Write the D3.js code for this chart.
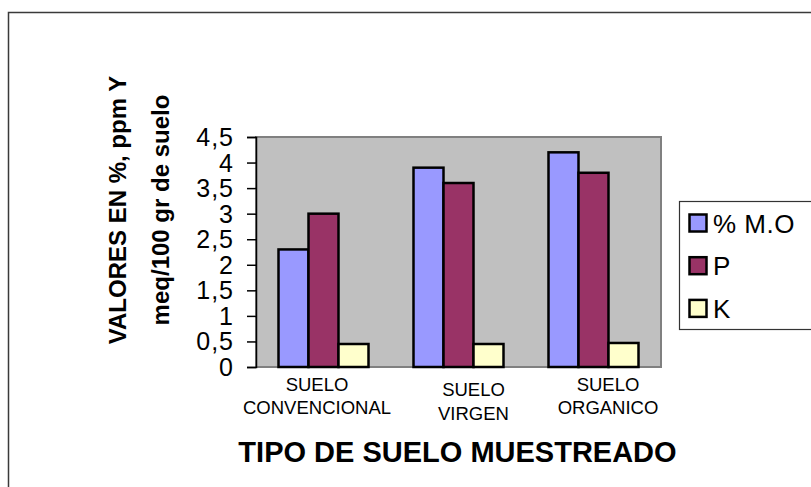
<!DOCTYPE html>
<html>
<head>
<meta charset="utf-8">
<script src="https://cdn.jsdelivr.net/npm/d3@7/dist/d3.min.js"></script>
<style>
  html, body { margin: 0; padding: 0; background: #fff; }
  svg { display: block; font-family: "Liberation Sans", Arial, sans-serif; }
</style>
</head>
<body>
<svg id="chart" width="811" height="487"></svg>
<script>
// Soil categories (two-line labels) and measured series
const categories = ["SUELO CONVENCIONAL", "SUELO VIRGEN", "SUELO ORGANICO"];
const categoryLines = [["SUELO", "CONVENCIONAL"], ["SUELO", "VIRGEN"], ["SUELO", "ORGANICO"]];
const seriesNames = ["% M.O", "P", "K"];
const materiaOrganica = [2.3, 3.9, 4.2];
const fosforo = [3.0, 3.6, 3.8];
const potasio = [0.45, 0.45, 0.47];
const yTicks = [0, 0.5, 1, 1.5, 2, 2.5, 3, 3.5, 4, 4.5];
const yTitleLines = ["VALORES EN %, ppm Y", "meq/100 gr de suelo"];
const xTitle = "TIPO DE SUELO MUESTREADO";

const seriesValues = [materiaOrganica, fosforo, potasio];
const colors = ["#9999FF", "#993366", "#FFFFCC"];

const svg = d3.select("#chart");
const W = 811, H = 487;
const plot = { left: 256, right: 661, top: 137, bottom: 367 };

svg.append("rect").attr("width", W).attr("height", H).attr("fill", "#fff");

// Outer chart frame (left and top edges visible)
svg.append("path")
  .attr("d", `M8.5,${H + 2} V12.5 H${W + 2}`)
  .attr("fill", "none").attr("stroke", "#3a3a3a").attr("stroke-width", 1.5);

const x0 = d3.scaleBand().domain(categories)
  .range([plot.left, plot.right]).paddingInner(1 / 3).paddingOuter(1 / 6);
const x1 = d3.scaleBand().domain(seriesNames).range([0, x0.bandwidth()]).padding(0);
const y = d3.scaleLinear().domain([0, 4.5]).range([plot.bottom, plot.top]);

// Plot area background
svg.append("rect")
  .attr("x", plot.left).attr("y", plot.top)
  .attr("width", plot.right - plot.left).attr("height", plot.bottom - plot.top)
  .attr("fill", "#C0C0C0").attr("stroke", "#808080").attr("stroke-width", 2);

// Bars
const groups = svg.append("g").selectAll("g")
  .data(categories).join("g")
  .attr("transform", d => `translate(${x0(d)},0)`);

groups.selectAll("rect")
  .data((c, i) => seriesNames.map((s, j) => ({ s, j, v: seriesValues[j][i] })))
  .join("rect")
  .attr("x", d => x1(d.s))
  .attr("y", d => y(d.v))
  .attr("width", x1.bandwidth())
  .attr("height", d => y(0) - y(d.v))
  .attr("fill", d => colors[d.j])
  .attr("stroke", "#000").attr("stroke-width", 2.5);

// Y axis
const yAxis = d3.axisLeft(y).tickValues(yTicks).tickSize(9).tickPadding(14)
  .tickFormat(d => d3.format("")(d).replace(".", ","));
const ya = svg.append("g").attr("transform", `translate(${plot.left},0)`).call(yAxis);
ya.select(".domain").attr("stroke", "#000").attr("stroke-width", 1.5);
ya.selectAll(".tick line").attr("stroke", "#000").attr("stroke-width", 1.5);
ya.selectAll(".tick text")
  .attr("font-size", 25).attr("fill", "#000")
  .attr("letter-spacing", 1).attr("dx", 1).attr("dy", "0.34em")
  .attr("font-family", "Liberation Sans, Arial, sans-serif");

// Category labels (two lines each, positioned as in the layout)
const labelShift = [{ dx: -6.5, dy: 0 }, { dx: 15, dy: 5.5 }, { dx: 14.5, dy: 0 }];
categories.forEach((c, i) => {
  const cx = x0(c) + x0.bandwidth() / 2 + labelShift[i].dx;
  categoryLines[i].forEach((line, k) => {
    svg.append("text")
      .attr("x", cx)
      .attr("y", 390.5 + labelShift[i].dy + k * 23.5)
      .attr("text-anchor", "middle")
      .attr("font-size", 18.5).attr("fill", "#000")
      .text(line);
  });
});

// Axis titles
svg.append("text")
  .attr("x", 457.5).attr("y", 462)
  .attr("text-anchor", "middle")
  .attr("font-size", 29).attr("font-weight", "bold").attr("fill", "#000")
  .text(xTitle);

yTitleLines.forEach((line, k) => {
  svg.append("text")
    .attr("transform", `translate(${125.5 + k * 43.5},210) rotate(-90)`)
    .attr("text-anchor", "middle")
    .attr("font-size", 24).attr("font-weight", "bold").attr("fill", "#000")
    .text(line);
});

// Legend
const legend = svg.append("g");
legend.append("rect")
  .attr("x", 679.5).attr("y", 201.5).attr("width", 140).attr("height", 128)
  .attr("fill", "#fff").attr("stroke", "#333").attr("stroke-width", 1.2);
seriesNames.forEach((s, i) => {
  const ly = 214 + i * 42.7;
  legend.append("rect")
    .attr("x", 689.5).attr("y", ly + 0.5).attr("width", 17).attr("height", 17)
    .attr("fill", colors[i]).attr("stroke", "#000").attr("stroke-width", 2.5);
  legend.append("text")
    .attr("x", 713).attr("y", ly + 18.5)
    .attr("font-size", 26).attr("letter-spacing", 0.5).attr("fill", "#000")
    .text(s);
});
</script>
</body>
</html>
